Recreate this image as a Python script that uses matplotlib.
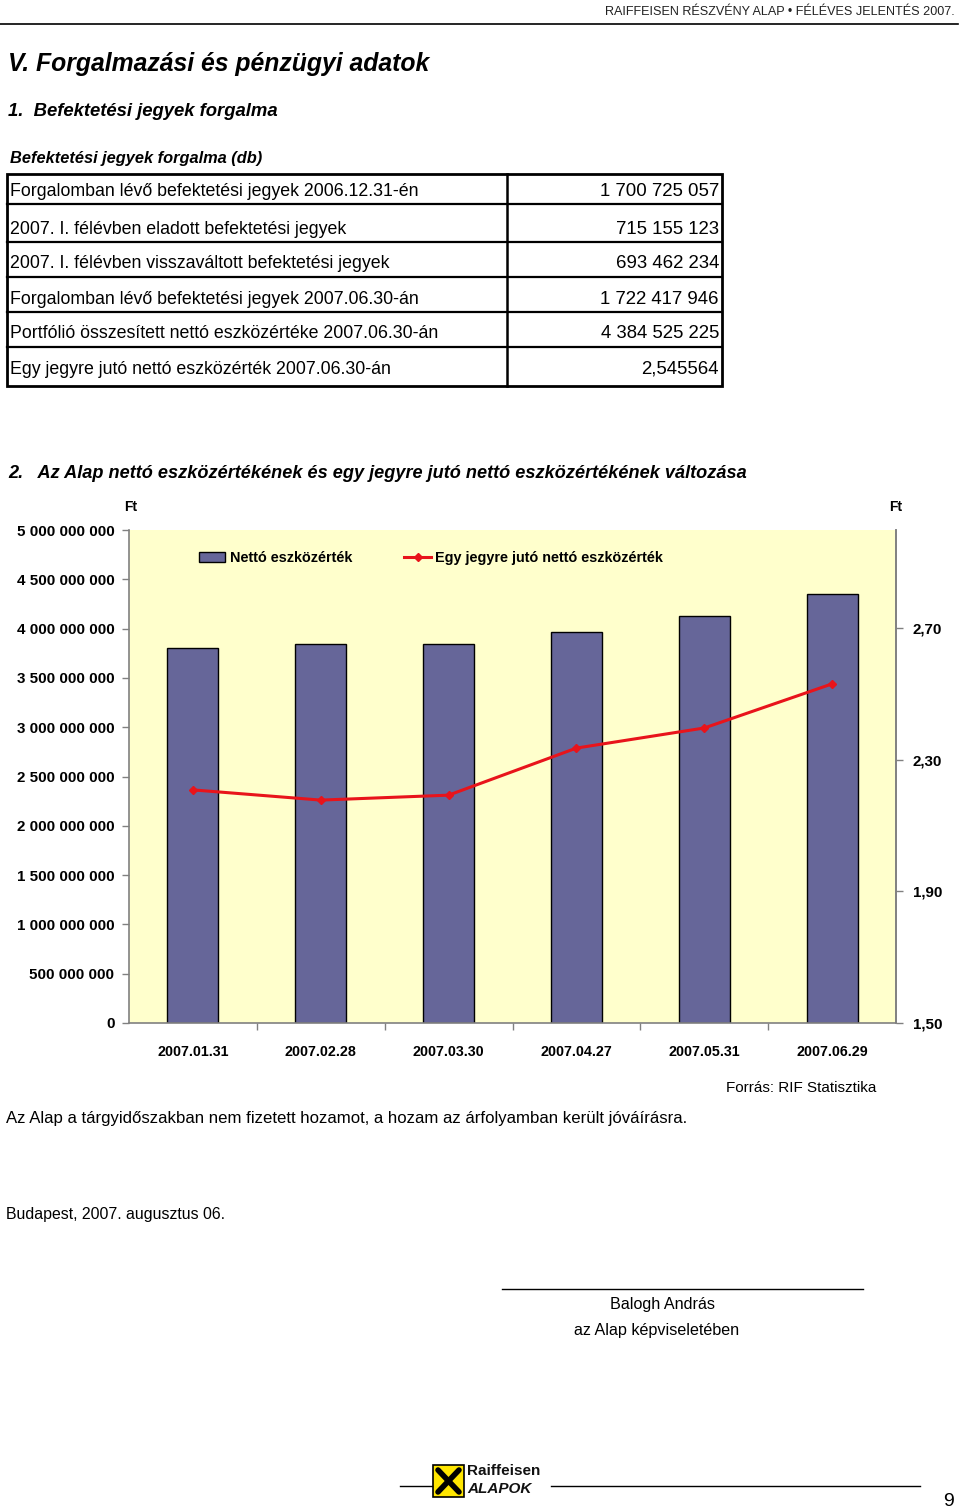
import matplotlib
matplotlib.use("Agg")
import matplotlib.pyplot as plt
from matplotlib.ticker import FuncFormatter, FixedLocator
from matplotlib.patches import Rectangle

plt.rcParams["font.family"] = ["Liberation Sans", "DejaVu Sans"]

# ------------------------------------------------------------------ #
# data
# ------------------------------------------------------------------ #
table_labels = [
    "Forgalomban lévő befektetési jegyek 2006.12.31-én",
    "2007. I. félévben eladott befektetési jegyek",
    "2007. I. félévben visszaváltott befektetési jegyek",
    "Forgalomban lévő befektetési jegyek 2007.06.30-án",
    "Portfólió összesített nettó eszközértéke 2007.06.30-án",
    "Egy jegyre jutó nettó eszközérték 2007.06.30-án",
]
table_values = [
    "1 700 725 057",
    "715 155 123",
    "693 462 234",
    "1 722 417 946",
    "4 384 525 225",
    "2,545564",
]

dates = ["2007.01.31", "2007.02.28", "2007.03.30",
         "2007.04.27", "2007.05.31", "2007.06.29"]
net_assets = [3.80e9, 3.84e9, 3.845e9, 3.965e9, 4.13e9, 4.355e9]
unit_value = [2.208, 2.177, 2.192, 2.335, 2.396, 2.530]

left_ticks = [i * 5e8 for i in range(11)]
right_ticks = [1.50, 1.90, 2.30, 2.70]

BAR_COLOR = "#666699"
LINE_COLOR = "#E8141B"
PLOT_BG = "#FFFFCC"
AXIS_GRAY = "#808080"

W, H = 960, 1512
fig = plt.figure(figsize=(W / 100, H / 100), dpi=100)

# page layer in pixel coordinates
page = fig.add_axes([0, 0, 1, 1])
page.set_xlim(0, W)
page.set_ylim(H, 0)
page.axis("off")


def txt(x, y, s, **kw):
    kw.setdefault("va", "center")
    kw.setdefault("fontsize", 12)
    page.text(x, y, s, **kw)


# header
txt(955, 12, "RAIFFEISEN RÉSZVÉNY ALAP • FÉLÉVES JELENTÉS 2007.",
    ha="right", fontsize=9.1, color="#222222")
page.plot([0, 958], [24, 24], color="black", lw=1.2)

txt(8, 64, "V. Forgalmazási és pénzügyi adatok", fontsize=17.8,
    fontweight="bold", style="italic")
txt(8, 111, "1.  Befektetési jegyek forgalma", fontsize=13.3,
    fontweight="bold", style="italic")
txt(10, 159, "Befektetési jegyek forgalma (db)", fontsize=11.8,
    fontweight="bold", style="italic")

# table
row_edges = [174, 204, 242, 277, 312, 347, 386]
x_left, x_mid, x_right = 7, 507, 722
for y in row_edges[1:-1]:
    page.plot([x_left, x_right], [y, y], color="black", lw=1.6)
page.add_patch(Rectangle((x_left, row_edges[0]), x_right - x_left,
                         row_edges[-1] - row_edges[0], fill=False,
                         ec="black", lw=2.0))
page.plot([x_mid, x_mid], [row_edges[0], row_edges[-1]], color="black", lw=1.8)
for i, (lab, val) in enumerate(zip(table_labels, table_values)):
    yb = row_edges[i + 1] - (17 if i == 5 else 13)
    txt(10, yb, lab, fontsize=12.8)
    txt(719, yb, val, ha="right", fontsize=13.4)

txt(8, 473, "2.   Az Alap nettó eszközértékének és egy jegyre jutó nettó eszközértékének változása",
    fontsize=13.1, fontweight="bold", style="italic")

# ------------------------------------------------------------------ #
# chart
# ------------------------------------------------------------------ #
px_l, px_r, px_t, px_b = 129, 896, 530, 1023
ax = fig.add_axes([px_l / W, 1 - px_b / H, (px_r - px_l) / W, (px_b - px_t) / H])
ax.set_facecolor(PLOT_BG)
x = list(range(len(dates)))
bars = ax.bar(x, net_assets, width=0.4, color=BAR_COLOR, edgecolor="black",
              linewidth=1.0, label="Nettó eszközérték", zorder=2)
ax.set_xlim(-0.5, len(dates) - 0.5)
ax.set_ylim(0, 5e9)
ax.yaxis.set_major_locator(FixedLocator(left_ticks))
ax.yaxis.set_major_formatter(FuncFormatter(lambda v, p: f"{int(round(v)):,}".replace(",", " ")))
ax.tick_params(axis="y", direction="out", length=5, color=AXIS_GRAY, width=1,
               labelsize=10.9, pad=5.5)
for lab in ax.get_yticklabels():
    lab.set_fontweight("bold")

# category boundary ticks, labels centred under bars
ax.xaxis.set_major_locator(FixedLocator([i + 0.5 for i in x[:-1]]))
ax.xaxis.set_major_formatter(FuncFormatter(lambda v, p: ""))
ax.xaxis.set_minor_locator(FixedLocator(x))
ax.set_xticklabels(dates, minor=True, fontsize=10.3, fontweight="bold")
ax.tick_params(axis="x", which="major", direction="out", length=5,
               color=AXIS_GRAY, width=1)
ax.tick_params(axis="x", which="minor", length=0, pad=16)

for side in ("left", "bottom", "right"):
    ax.spines[side].set_color(AXIS_GRAY)
    ax.spines[side].set_linewidth(1.2)
ax.spines["top"].set_visible(False)

ax2 = ax.twinx()
line, = ax2.plot(x, unit_value, color=LINE_COLOR, lw=2.2, marker="D",
                 markersize=4.5, label="Egy jegyre jutó nettó eszközérték",
                 zorder=3)
ax2.set_ylim(1.5, 1.5 + 0.4 * 493 / 131.7)
ax2.yaxis.set_major_locator(FixedLocator(right_ticks))
ax2.yaxis.set_major_formatter(FuncFormatter(lambda v, p: f"{v:.2f}".replace(".", ",")))
ax2.tick_params(axis="y", direction="out", length=5, color=AXIS_GRAY, width=1,
                labelsize=10.9, pad=7)
for lab in ax2.get_yticklabels():
    lab.set_fontweight("bold")
ax2.spines["top"].set_visible(False)
ax2.spines["right"].set_color(AXIS_GRAY)
ax2.spines["right"].set_linewidth(1.2)
ax2.spines["left"].set_visible(False)
ax2.spines["bottom"].set_visible(False)

leg = ax2.legend([bars, line], ["Nettó eszközérték", "Egy jegyre jutó nettó eszközérték"],
                 loc="center left", bbox_to_anchor=(0.074, 0.943), ncol=2,
                 frameon=False, handlelength=1.85, handletextpad=0.3,
                 columnspacing=3.6, prop={"weight": "bold", "size": 10.4})

txt(131, 507, "Ft", ha="center", fontsize=10, fontweight="bold")
txt(896, 507, "Ft", ha="center", fontsize=10, fontweight="bold")

# ------------------------------------------------------------------ #
# notes, signature, footer
# ------------------------------------------------------------------ #
txt(876, 1088, "Forrás: RIF Statisztika", ha="right", fontsize=11)
txt(6, 1119, "Az Alap a tárgyidőszakban nem fizetett hozamot, a hozam az árfolyamban került jóváírásra.",
    fontsize=12.1)
txt(6, 1214, "Budapest, 2007. augusztus 06.", fontsize=11.4)
page.plot([502, 863], [1289, 1289], color="black", lw=1.0)
txt(662, 1304, "Balogh András", ha="center", fontsize=11.6)
txt(657, 1331, "az Alap képviseletében", ha="center", fontsize=11.6)

# footer rule with logo
page.plot([400, 432], [1486, 1486], color="black", lw=1.0)
page.plot([551, 920], [1486, 1486], color="black", lw=1.0)
page.add_patch(Rectangle((433, 1465), 31, 32, fc="#FFE600", ec="black", lw=1.2))
page.plot([438, 459], [1470, 1492], color="black", lw=4, solid_capstyle="round")
page.plot([459, 438], [1470, 1492], color="black", lw=4, solid_capstyle="round")
txt(467, 1471, "Raiffeisen", fontsize=11, fontweight="bold", color="#111111")
txt(467, 1489, "ALAPOK", fontsize=11, fontweight="bold", style="italic",
    color="#111111")
txt(948, 1501, "9", ha="center", fontsize=14)

fig.savefig("out.png", dpi=100)
